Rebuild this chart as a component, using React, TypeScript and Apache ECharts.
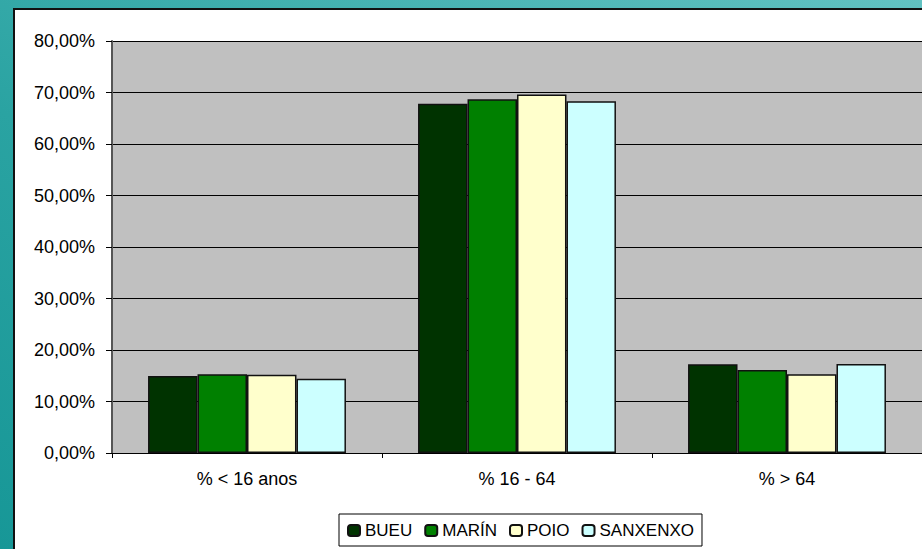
import React, { useEffect, useRef } from "react";
import * as echarts from "echarts";

const categories = ["% < 16 anos", "% 16 - 64", "% > 64"];
const seriesNames = ["BUEU", "MARÍN", "POIO", "SANXENXO"];
const bueu = [0.1495, 0.678, 0.1725];
const marin = [0.153, 0.687, 0.161];
const poio = [0.152, 0.696, 0.153];
const sanxenxo = [0.144, 0.683, 0.173];
const seriesColors = ["#003300", "#008000", "#FFFFCC", "#CCFFFF"];
const yTicks = [0, 0.1, 0.2, 0.3, 0.4, 0.5, 0.6, 0.7, 0.8];

const FONT = "'Liberation Sans', Arial, sans-serif";

export default function App() {
  const ref = useRef<HTMLDivElement>(null);
  useEffect(() => {
    if (!ref.current) return;
    const chart = echarts.init(ref.current, undefined, { renderer: "svg" });
    const data = [bueu, marin, poio, sanxenxo];
    chart.setOption({
      animation: false,
      textStyle: { fontFamily: FONT },
      grid: {
        left: 112,
        top: 41,
        right: 0,
        bottom: 96,
        show: true,
        backgroundColor: "#C0C0C0",
        borderWidth: 0,
      },
      legend: {
        left: 339,
        top: 514,
        itemWidth: 12,
        itemHeight: 11,
        itemGap: 12,
        padding: [8, 8, 7, 8],
        borderColor: "#000",
        borderWidth: 1,
        backgroundColor: "#fff",
        textStyle: { fontSize: 17, color: "#000", fontFamily: FONT },
        data: seriesNames,
      },
      xAxis: {
        type: "category",
        data: categories,
        axisLine: { lineStyle: { color: "#000", width: 1 } },
        axisTick: { show: true, length: 5, lineStyle: { color: "#000" } },
        axisLabel: { fontSize: 18, color: "#000", margin: 17, fontFamily: FONT },
        splitLine: { show: false },
      },
      yAxis: {
        type: "value",
        min: 0,
        max: 0.8,
        interval: 0.1,
        axisLine: { show: true, lineStyle: { color: "#555", width: 2 } },
        axisTick: { show: true, length: 6, lineStyle: { color: "#000" } },
        axisLabel: {
          fontSize: 18,
          color: "#000",
          margin: 17,
          fontFamily: FONT,
          formatter: (v: number) => {
            const t = yTicks.find((y) => Math.abs(y - v) < 1e-9);
            const val = t !== undefined ? t : v;
            return (val * 100).toFixed(2).replace(".", ",") + "%";
          },
        },
        splitLine: { show: true, lineStyle: { color: "#000", width: 1 } },
      },
      series: seriesNames.map((name, i) => ({
        name,
        type: "bar",
        data: data[i],
        barGap: "0%",
        barCategoryGap: "26.7%",
        itemStyle: { color: seriesColors[i], borderColor: "#111", borderWidth: 1.5 },
      })),
    });
    return () => chart.dispose();
  }, []);

  return (
    <div
      style={{
        position: "absolute",
        left: 0,
        top: 0,
        width: 922,
        height: 549,
        overflow: "hidden",
        background: "linear-gradient(to top right, #179797 0%, #2aa3a2 40%, #62c2c2 100%)",
      }}
    >
      <div
        style={{
          position: "absolute",
          left: 13,
          top: 8,
          width: 930,
          height: 560,
          background: "#fff",
          borderLeft: "2px solid #111",
          borderTop: "2px solid #111",
        }}
      />
      <div ref={ref} style={{ position: "absolute", left: 0, top: 0, width: 922, height: 549 }} />
    </div>
  );
}
